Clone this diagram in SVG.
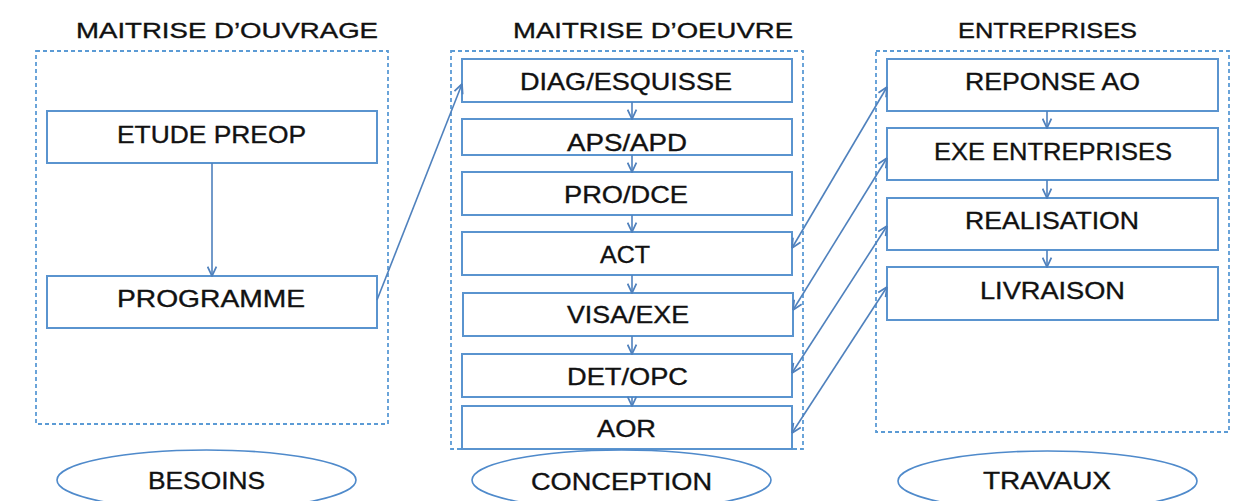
<svg xmlns="http://www.w3.org/2000/svg" width="1250" height="501" viewBox="0 0 1250 501">
  <defs>
    <style>
      .zone { fill: none; stroke: #5B9BD5; stroke-width: 1.8; stroke-dasharray: 4 3; }
      .box { fill: #ffffff; stroke: #5A94CF; stroke-width: 2; }
      .phase { fill: #ffffff; stroke: #4F8ACB; stroke-width: 1.6; }
      .title { font-family: "Liberation Sans", Arial, sans-serif; font-size: 22.5px; fill: #111111; stroke: #111111; stroke-width: 0.35; text-anchor: middle; }
      .label { font-family: "Liberation Sans", Arial, sans-serif; font-size: 24px; fill: #111111; stroke: #111111; stroke-width: 0.35; text-anchor: middle; }
      .link { fill: none; stroke: #4F81BD; stroke-width: 1.6; }
    </style>
    <marker id="head" viewBox="0 0 10 10" refX="9.5" refY="5" markerWidth="11" markerHeight="11" markerUnits="userSpaceOnUse" orient="auto-start-reverse">
      <path d="M1,1 L9.5,5 L1,9" fill="none" stroke="#4F81BD" stroke-width="1.6"/>
    </marker>
  </defs>

  <rect width="1250" height="501" fill="#ffffff"/>

  <!-- column titles -->
  <text class="title" x="227" y="38" textLength="302" lengthAdjust="spacingAndGlyphs">MAITRISE D’OUVRAGE</text>
  <text class="title" x="653" y="38" textLength="280" lengthAdjust="spacingAndGlyphs">MAITRISE D’OEUVRE</text>
  <text class="title" x="1047.5" y="38" textLength="179" lengthAdjust="spacingAndGlyphs">ENTREPRISES</text>

  <!-- dashed column frames -->
  <rect id="zone-moa" class="zone" x="36" y="51" width="352" height="373"/>
  <rect id="zone-moe" class="zone" x="451" y="51" width="352" height="398"/>
  <rect id="zone-ent" class="zone" x="876" y="51" width="353" height="381"/>

  <!-- maitrise d'ouvrage -->
  <g id="etude-preop">
    <rect class="box" x="47" y="111" width="330" height="52"/>
    <text class="label" x="211.5" y="143" textLength="189" lengthAdjust="spacingAndGlyphs">ETUDE PREOP</text>
  </g>
  <g id="programme">
    <rect class="box" x="47" y="276" width="330" height="52"/>
    <text class="label" x="211" y="307" textLength="188" lengthAdjust="spacingAndGlyphs">PROGRAMME</text>
  </g>

  <!-- maitrise d'oeuvre -->
  <g id="diag-esquisse">
    <rect class="box" x="462" y="59" width="330" height="43"/>
    <text class="label" x="626" y="90" textLength="212" lengthAdjust="spacingAndGlyphs">DIAG/ESQUISSE</text>
  </g>
  <g id="aps-apd">
    <rect class="box" x="462" y="119" width="330" height="36"/>
    <text class="label" x="627" y="151" textLength="120" lengthAdjust="spacingAndGlyphs">APS/APD</text>
  </g>
  <g id="pro-dce">
    <rect class="box" x="462" y="172" width="330" height="43"/>
    <text class="label" x="626" y="203" textLength="124" lengthAdjust="spacingAndGlyphs">PRO/DCE</text>
  </g>
  <g id="act">
    <rect class="box" x="462" y="232" width="330" height="43"/>
    <text class="label" x="625" y="263" textLength="50" lengthAdjust="spacingAndGlyphs">ACT</text>
  </g>
  <g id="visa-exe">
    <rect class="box" x="463" y="293" width="330" height="43"/>
    <text class="label" x="628" y="323" textLength="122" lengthAdjust="spacingAndGlyphs">VISA/EXE</text>
  </g>
  <g id="det-opc">
    <rect class="box" x="462" y="354" width="330" height="43"/>
    <text class="label" x="627.5" y="385" textLength="121" lengthAdjust="spacingAndGlyphs">DET/OPC</text>
  </g>
  <g id="aor">
    <rect class="box" x="462" y="406" width="330" height="43"/>
    <text class="label" x="626.5" y="437" textLength="59" lengthAdjust="spacingAndGlyphs">AOR</text>
  </g>

  <!-- entreprises -->
  <g id="reponse-ao">
    <rect class="box" x="887" y="59" width="331" height="52"/>
    <text class="label" x="1052.5" y="90" textLength="175" lengthAdjust="spacingAndGlyphs">REPONSE AO</text>
  </g>
  <g id="exe-entreprises">
    <rect class="box" x="887" y="128" width="331" height="52"/>
    <text class="label" x="1053" y="160" textLength="238" lengthAdjust="spacingAndGlyphs">EXE ENTREPRISES</text>
  </g>
  <g id="realisation">
    <rect class="box" x="887" y="198" width="331" height="52"/>
    <text class="label" x="1052" y="229" textLength="174" lengthAdjust="spacingAndGlyphs">REALISATION</text>
  </g>
  <g id="livraison">
    <rect class="box" x="887" y="267" width="331" height="53"/>
    <text class="label" x="1052.5" y="299" textLength="145" lengthAdjust="spacingAndGlyphs">LIVRAISON</text>
  </g>

  <!-- phase ellipses -->
  <g id="besoins">
    <ellipse class="phase" cx="206.5" cy="480" rx="149.5" ry="30"/>
    <text class="label" x="206.5" y="489" textLength="117" lengthAdjust="spacingAndGlyphs">BESOINS</text>
  </g>
  <g id="conception">
    <ellipse class="phase" cx="621.5" cy="480" rx="149.5" ry="30"/>
    <text class="label" x="621.5" y="490" textLength="181" lengthAdjust="spacingAndGlyphs">CONCEPTION</text>
  </g>
  <g id="travaux">
    <ellipse class="phase" cx="1047.5" cy="481" rx="149.5" ry="30"/>
    <text class="label" x="1047" y="489" textLength="128" lengthAdjust="spacingAndGlyphs">TRAVAUX</text>
  </g>

  <!-- connectors -->
  <g id="connectors">
    <line class="link" x1="212" y1="163" x2="212" y2="276" marker-end="url(#head)"/>
    <line class="link" x1="377" y1="300" x2="462" y2="84" marker-end="url(#head)"/>

    <line class="link" x1="632" y1="102" x2="632" y2="119" marker-end="url(#head)"/>
    <line class="link" x1="632" y1="155" x2="632" y2="172" marker-end="url(#head)"/>
    <line class="link" x1="632" y1="215" x2="632" y2="232" marker-end="url(#head)"/>
    <line class="link" x1="632" y1="275" x2="632" y2="293" marker-end="url(#head)"/>
    <line class="link" x1="632" y1="336" x2="632" y2="354" marker-end="url(#head)"/>
    <line class="link" x1="632" y1="397" x2="632" y2="406" marker-end="url(#head)"/>

    <line class="link" x1="1047" y1="111" x2="1047" y2="128" marker-end="url(#head)"/>
    <line class="link" x1="1047" y1="180" x2="1047" y2="198" marker-end="url(#head)"/>
    <line class="link" x1="1047" y1="250" x2="1047" y2="267" marker-end="url(#head)"/>

    <line class="link" x1="792" y1="248" x2="887" y2="87" marker-start="url(#head)" marker-end="url(#head)"/>
    <line class="link" x1="793" y1="310" x2="887" y2="158" marker-start="url(#head)" marker-end="url(#head)"/>
    <line class="link" x1="792" y1="373" x2="887" y2="226" marker-start="url(#head)" marker-end="url(#head)"/>
    <line class="link" x1="792" y1="433" x2="887" y2="287" marker-start="url(#head)" marker-end="url(#head)"/>
  </g>
</svg>
